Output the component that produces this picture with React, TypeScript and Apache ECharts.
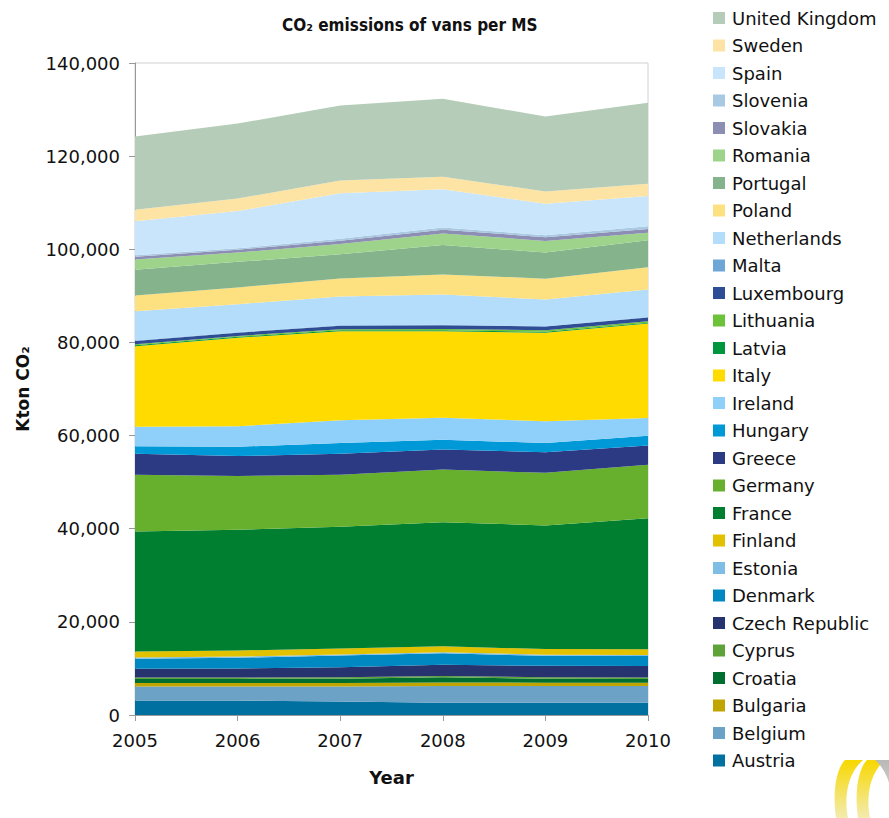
import React, { useEffect, useRef } from "react";
import * as echarts from "echarts";

const years = ["2005", "2006", "2007", "2008", "2009", "2010"];

// Countries bottom (first) to top (last) of the stack
const countries = [
  "Austria", "Belgium", "Bulgaria", "Croatia", "Cyprus", "Czech Republic", "Denmark",
  "Estonia", "Finland", "France", "Germany", "Greece", "Hungary", "Ireland", "Italy",
  "Latvia", "Lithuania", "Luxembourg", "Malta", "Netherlands", "Poland", "Portugal",
  "Romania", "Slovakia", "Slovenia", "Spain", "Sweden", "United Kingdom",
];

// Kton CO2 per year (2005..2010)
const austria = [3100, 3100, 2900, 2650, 2650, 2650];
const belgium = [3000, 3000, 3200, 3600, 3600, 3600];
const bulgaria = [750, 750, 750, 750, 700, 700];
const croatia = [900, 900, 950, 1100, 850, 800];
const cyprus = [300, 300, 300, 300, 300, 300];
const czechRepublic = [1900, 1950, 2150, 2400, 2450, 2450];
const denmark = [2150, 2300, 2500, 2450, 2150, 2150];
const estonia = [250, 250, 250, 250, 250, 250];
const finland = [1300, 1300, 1300, 1250, 1200, 1200];
const france = [25750, 25950, 26100, 26650, 26550, 28150];
const germany = [12200, 11500, 11200, 11300, 11300, 11500];
const greece = [4500, 4300, 4500, 4300, 4400, 4100];
const hungary = [1600, 2000, 2300, 2100, 2000, 2100];
const ireland = [4200, 4400, 4900, 4700, 4700, 3800];
const italy = [17300, 19000, 19100, 18600, 19000, 20300];
const latvia = [200, 200, 200, 200, 200, 200];
const lithuania = [200, 200, 250, 300, 300, 300];
const luxembourg = [700, 700, 750, 800, 800, 800];
const malta = [100, 100, 100, 100, 100, 100];
const netherlands = [6300, 6000, 6150, 6500, 5700, 5900];
const poland = [3400, 3600, 3900, 4300, 4500, 4800];
const portugal = [5500, 5500, 5200, 6300, 5600, 5800];
const romania = [2200, 2000, 2200, 2500, 2500, 1600];
const slovakia = [600, 600, 700, 800, 800, 800];
const slovenia = [300, 300, 400, 500, 400, 600];
const spain = [7300, 8000, 9800, 8200, 6800, 6500];
const sweden = [2500, 2700, 2700, 2700, 2600, 2600];
const unitedKingdom = [15700, 16100, 16100, 16700, 16100, 17400];

const seriesValues = [
  austria, belgium, bulgaria, croatia, cyprus, czechRepublic, denmark, estonia, finland,
  france, germany, greece, hungary, ireland, italy, latvia, lithuania, luxembourg, malta,
  netherlands, poland, portugal, romania, slovakia, slovenia, spain, sweden, unitedKingdom,
];

const colors = [
  "#0070A0", "#6BA2C6", "#C0A500", "#006E2E", "#5DA33A", "#26336F", "#0088C2",
  "#7EBDE6", "#E2C100", "#007F30", "#66B02E", "#2C3A83", "#0099D8", "#8ED0FA",
  "#FFDB00", "#00963F", "#6CC33A", "#2F4D95", "#6EA6D6", "#B3DDFA", "#FDE181",
  "#85B48C", "#9DD38A", "#8C8FB3", "#A9C8E2", "#C9E5FB", "#FDE4A5", "#B5CDB8",
];

const yTicks = { min: 0, max: 140000, interval: 20000 };

const crescentPath = "M12 0 C4 8 -1 30 3 58 L15 58 C11 38 14 14 30 0 Z";

export default function App() {
  const ref = useRef<HTMLDivElement>(null);

  useEffect(() => {
    if (!ref.current) return;
    try {
      echarts.graphic.registerShape("logo", echarts.graphic.extendPath(crescentPath, {}) as any);
    } catch (e) {}
    const chart = echarts.init(ref.current, undefined, { renderer: "svg" });
    const font = "DejaVu Sans";
    const condensed = "'DejaVu Sans Condensed', 'DejaVu Sans'";
    const yellowGrad = () =>
      new echarts.graphic.LinearGradient(0, 0, 0, 1, [
        { offset: 0, color: "#F7D800" },
        { offset: 1, color: "#F3EBB0" },
      ]);
    chart.setOption({
      animation: false,
      color: colors,
      title: {
        text: "CO₂ emissions of vans per MS",
        left: 277,
        top: 11,
        textStyle: { fontFamily: condensed, fontSize: 17, fontWeight: "bold", color: "#111" },
      },
      grid: {
        left: 135,
        right: 241,
        top: 63,
        bottom: 103,
        show: true,
        borderColor: "#d0d0d0",
        borderWidth: 1,
        backgroundColor: "transparent",
      },
      legend: {
        orient: "vertical",
        left: 708,
        top: 4,
        itemWidth: 12,
        itemHeight: 12,
        itemGap: 9.5,
        icon: "rect",
        selectedMode: false,
        data: [...countries].reverse(),
        textStyle: { fontFamily: font, fontSize: 18, color: "#111", lineHeight: 18, padding: [0, 0, 0, 2] },
      },
      xAxis: {
        type: "category",
        data: years,
        boundaryGap: false,
        name: "Year",
        nameLocation: "middle",
        nameGap: 53,
        nameTextStyle: { fontFamily: font, fontSize: 18, fontWeight: "bold", color: "#111" },
        axisLine: { lineStyle: { color: "#999" } },
        axisTick: { show: true, length: 6, lineStyle: { color: "#999" } },
        axisLabel: { fontFamily: font, fontSize: 18, color: "#111", margin: 16 },
      },
      yAxis: {
        type: "value",
        min: yTicks.min,
        max: yTicks.max,
        interval: yTicks.interval,
        name: "Kton CO₂",
        nameLocation: "middle",
        nameGap: 104,
        nameTextStyle: { fontFamily: font, fontSize: 17, fontWeight: "bold", color: "#111" },
        axisLine: { show: true, lineStyle: { color: "#999" } },
        axisTick: { show: true, length: 6, lineStyle: { color: "#999" } },
        splitLine: { show: false },
        axisLabel: {
          fontFamily: font,
          fontSize: 18,
          color: "#111",
          margin: 15,
          formatter: (v: number) => v.toLocaleString("en-US"),
        },
      },
      series: countries.map((name, i) => ({
        name,
        type: "line",
        stack: "total",
        data: seriesValues[i],
        symbol: "none",
        lineStyle: { width: 0 },
        areaStyle: { opacity: 1, color: colors[i] },
        itemStyle: { color: colors[i] },
        z: 2,
      })),
      graphic: [
        { type: "logo", x: 833, y: 760, style: { fill: yellowGrad() }, silent: true },
        { type: "logo", x: 855, y: 760, style: { fill: yellowGrad() }, silent: true },
        {
          type: "logo",
          x: 905,
          y: 760,
          scaleX: -1,
          silent: true,
          style: {
            fill: new echarts.graphic.LinearGradient(0, 0, 0, 1, [
              { offset: 0, color: "#B8B8B8" },
              { offset: 1, color: "#E6E6E6" },
            ]),
          },
        },
      ],
    });
    return () => chart.dispose();
  }, []);

  return (
    <div
      ref={ref}
      style={{ position: "fixed", left: 0, top: 0, width: 889, height: 818, background: "#fff" }}
    />
  );
}
